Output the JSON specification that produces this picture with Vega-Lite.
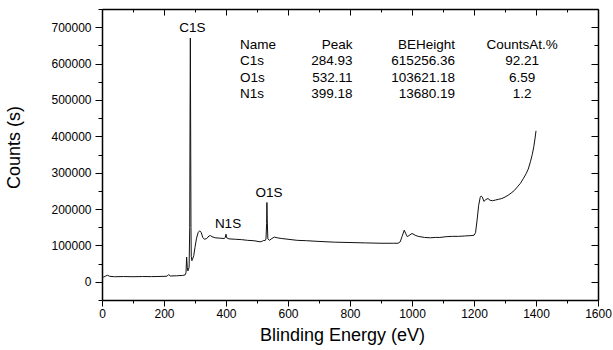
{
  "$schema": "https://vega.github.io/schema/vega-lite/v6.json",
  "width": 496,
  "height": 291,
  "autosize": {"type": "none"},
  "padding": {"left": 102, "top": 9, "right": 15, "bottom": 50},
  "background": "white",
  "config": {
    "view": {"stroke": null},
    "font": "Liberation Sans",
    "axis": {
      "grid": false,
      "domainColor": "#000",
      "domainWidth": 1.5,
      "tickColor": "#000",
      "tickWidth": 1,
      "labelColor": "#000",
      "labelFont": "Liberation Sans",
      "labelFontSize": 12,
      "titleFont": "Liberation Sans",
      "titleFontSize": 18,
      "titleFontWeight": "normal",
      "titleColor": "#000",
      "labelOverlap": false,
      "labelFlush": false,
      "labelBound": false
    }
  },
  "resolve": {"scale": {"y": "independent"}, "axis": {"x": "independent", "y": "independent"}},
  "layer": [
    {
      "data": {"values": [
        {"E": 0, "counts": 11000}, {"E": 5, "counts": 13000}, {"E": 12, "counts": 16000}, {"E": 18, "counts": 18000},
        {"E": 25, "counts": 15000}, {"E": 40, "counts": 14000}, {"E": 70, "counts": 14500}, {"E": 100, "counts": 14000},
        {"E": 130, "counts": 14500}, {"E": 160, "counts": 14300}, {"E": 200, "counts": 15000}, {"E": 210, "counts": 15500},
        {"E": 215, "counts": 20000}, {"E": 220, "counts": 16000}, {"E": 240, "counts": 16500}, {"E": 260, "counts": 17500},
        {"E": 268, "counts": 19000}, {"E": 271, "counts": 25000}, {"E": 273, "counts": 68000}, {"E": 275, "counts": 40000},
        {"E": 277, "counts": 30000}, {"E": 279, "counts": 35000}, {"E": 281, "counts": 40000}, {"E": 283, "counts": 150000},
        {"E": 284, "counts": 450000}, {"E": 285, "counts": 670000}, {"E": 286, "counts": 420000}, {"E": 287, "counts": 150000},
        {"E": 288, "counts": 70000}, {"E": 290, "counts": 58000}, {"E": 292, "counts": 62000}, {"E": 296, "counts": 72000},
        {"E": 300, "counts": 95000}, {"E": 305, "counts": 120000}, {"E": 310, "counts": 135000}, {"E": 315, "counts": 140000},
        {"E": 320, "counts": 136000}, {"E": 325, "counts": 122000}, {"E": 330, "counts": 117000}, {"E": 338, "counts": 119000},
        {"E": 345, "counts": 126000}, {"E": 350, "counts": 127000}, {"E": 355, "counts": 124000}, {"E": 365, "counts": 121000},
        {"E": 380, "counts": 120000}, {"E": 395, "counts": 119000}, {"E": 398, "counts": 123000}, {"E": 400, "counts": 131000},
        {"E": 402, "counts": 121000}, {"E": 410, "counts": 118000}, {"E": 430, "counts": 117000}, {"E": 450, "counts": 116000},
        {"E": 470, "counts": 114000}, {"E": 490, "counts": 113000}, {"E": 510, "counts": 110000}, {"E": 518, "counts": 112000},
        {"E": 522, "counts": 114000}, {"E": 526, "counts": 113000}, {"E": 529, "counts": 118000}, {"E": 531, "counts": 160000},
        {"E": 532, "counts": 218000}, {"E": 533, "counts": 170000}, {"E": 535, "counts": 118000}, {"E": 540, "counts": 114000},
        {"E": 548, "counts": 119000}, {"E": 556, "counts": 123000}, {"E": 565, "counts": 121000}, {"E": 580, "counts": 119000},
        {"E": 600, "counts": 117000}, {"E": 630, "counts": 114000}, {"E": 660, "counts": 113000}, {"E": 700, "counts": 111000},
        {"E": 750, "counts": 109000}, {"E": 800, "counts": 108000}, {"E": 850, "counts": 107000}, {"E": 900, "counts": 106000},
        {"E": 940, "counts": 106000}, {"E": 955, "counts": 106000}, {"E": 962, "counts": 110000}, {"E": 968, "counts": 125000},
        {"E": 975, "counts": 142000}, {"E": 980, "counts": 132000}, {"E": 985, "counts": 124000}, {"E": 990, "counts": 127000},
        {"E": 1000, "counts": 133000}, {"E": 1010, "counts": 128000}, {"E": 1020, "counts": 125000}, {"E": 1040, "counts": 122000},
        {"E": 1060, "counts": 121000}, {"E": 1075, "counts": 122000}, {"E": 1090, "counts": 122000}, {"E": 1110, "counts": 124000},
        {"E": 1130, "counts": 125000}, {"E": 1150, "counts": 125000}, {"E": 1170, "counts": 126000}, {"E": 1190, "counts": 127000},
        {"E": 1200, "counts": 128000}, {"E": 1205, "counts": 135000}, {"E": 1210, "counts": 170000}, {"E": 1215, "counts": 210000},
        {"E": 1220, "counts": 232000}, {"E": 1223, "counts": 236000}, {"E": 1227, "counts": 233000}, {"E": 1232, "counts": 221000},
        {"E": 1238, "counts": 226000}, {"E": 1245, "counts": 229000}, {"E": 1252, "counts": 224000}, {"E": 1260, "counts": 223000},
        {"E": 1270, "counts": 225000}, {"E": 1280, "counts": 227000}, {"E": 1290, "counts": 229000}, {"E": 1300, "counts": 233000},
        {"E": 1310, "counts": 238000}, {"E": 1320, "counts": 244000}, {"E": 1330, "counts": 251000}, {"E": 1340, "counts": 261000},
        {"E": 1350, "counts": 271000}, {"E": 1360, "counts": 285000}, {"E": 1368, "counts": 297000}, {"E": 1375, "counts": 310000},
        {"E": 1382, "counts": 330000}, {"E": 1388, "counts": 350000}, {"E": 1393, "counts": 372000}, {"E": 1397, "counts": 395000},
        {"E": 1400, "counts": 415000}
      ]},
      "mark": {"type": "line", "color": "#111", "strokeWidth": 1},
      "encoding": {
        "x": {
          "field": "E", "type": "quantitative",
          "scale": {"domain": [0, 1600], "nice": false, "zero": false},
          "axis": {
            "orient": "bottom",
            "title": "Blinding Energy (eV)",
            "titleX": 240,
            "titleY": 40,
            "titleAlign": "center",
            "titleBaseline": "alphabetic",
            "values": [0, 100, 200, 300, 400, 500, 600, 700, 800, 900, 1000, 1100, 1200, 1300, 1400, 1500, 1600],
            "format": "d",
            "labelExpr": "datum.value % 200 === 0 ? datum.label : ''",
            "tickSize": {"condition": {"test": "datum.value % 200 === 0", "value": 6}, "value": 3},
            "labelPadding": 2
          }
        },
        "y": {
          "field": "counts", "type": "quantitative",
          "scale": {"domain": [-50000, 750000], "nice": false, "zero": false},
          "axis": {
            "orient": "left",
            "title": "Counts (s)",
            "titleX": -83,
            "titleY": 138,
            "titleAngle": 270,
            "titleAlign": "center",
            "titleBaseline": "alphabetic",
            "values": [-50000, 0, 50000, 100000, 150000, 200000, 250000, 300000, 350000, 400000, 450000, 500000, 550000, 600000, 650000, 700000, 750000],
            "format": "d",
            "labelExpr": "(datum.value % 100000 === 0 && datum.value >= 0 && datum.value <= 700000) ? datum.label : ''",
            "tickSize": {"condition": {"test": "datum.value % 100000 === 0", "value": 7}, "value": 4},
            "labelPadding": 4
          }
        }
      }
    },
    {
      "data": {"values": [
        {"peak": "C1S", "E": 285, "counts": 670000},
        {"peak": "N1S", "E": 400, "counts": 131000},
        {"peak": "O1S", "E": 532, "counts": 218000}
      ]},
      "mark": {"type": "text", "fontSize": 13.5, "color": "#000", "align": "center", "baseline": "alphabetic", "dy": -6, "dx": 2},
      "encoding": {
        "text": {"field": "peak"},
        "x": {
          "field": "E", "type": "quantitative",
          "scale": {"domain": [0, 1600], "nice": false, "zero": false},
          "axis": {
            "orient": "top",
            "title": null,
            "labels": false,
            "values": [0, 100, 200, 300, 400, 500, 600, 700, 800, 900, 1000, 1100, 1200, 1300, 1400, 1500, 1600],
            "tickSize": {"condition": {"test": "datum.value % 200 === 0", "value": -6}, "value": -3}
          }
        },
        "y": {
          "field": "counts", "type": "quantitative",
          "scale": {"domain": [-50000, 750000], "nice": false, "zero": false},
          "axis": {
            "orient": "right",
            "title": null,
            "labels": false,
            "values": [-50000, 0, 50000, 100000, 150000, 200000, 250000, 300000, 350000, 400000, 450000, 500000, 550000, 600000, 650000, 700000, 750000],
            "tickSize": {"condition": {"test": "datum.value % 100000 === 0", "value": -7}, "value": -4}
          }
        }
      }
    },
    {
      "data": {"values": [
        {"line": 0, "Name": "Name", "Peak": "Peak", "BEHeight": "BEHeight", "At": "CountsAt.%"},
        {"line": 1, "Name": "C1s", "Peak": "284.93", "BEHeight": "615256.36", "At": "92.21"},
        {"line": 2, "Name": "O1s", "Peak": "532.11", "BEHeight": "103621.18", "At": "6.59"},
        {"line": 3, "Name": "N1s", "Peak": "399.18", "BEHeight": "13680.19", "At": "1.2"}
      ]},
      "encoding": {
        "y": {"field": "line", "type": "quantitative", "scale": {"domain": [-2.21, 15.64], "reverse": true, "nice": false, "zero": false}, "axis": null}
      },
      "layer": [
        {
          "mark": {"type": "text", "fontSize": 13.5, "color": "#000", "align": "left", "baseline": "middle"},
          "encoding": {"x": {"datum": 445, "type": "quantitative", "axis": null}, "text": {"field": "Name"}}
        },
        {
          "mark": {"type": "text", "fontSize": 13.5, "color": "#000", "align": "right", "baseline": "middle"},
          "encoding": {"x": {"datum": 808, "type": "quantitative", "axis": null}, "text": {"field": "Peak"}}
        },
        {
          "mark": {"type": "text", "fontSize": 13.5, "color": "#000", "align": "right", "baseline": "middle"},
          "encoding": {"x": {"datum": 1139, "type": "quantitative", "axis": null}, "text": {"field": "BEHeight"}}
        },
        {
          "mark": {"type": "text", "fontSize": 13.5, "color": "#000", "align": "center", "baseline": "middle"},
          "encoding": {"x": {"datum": 1355, "type": "quantitative", "axis": null}, "text": {"field": "At"}}
        }
      ]
    }
  ]
}
